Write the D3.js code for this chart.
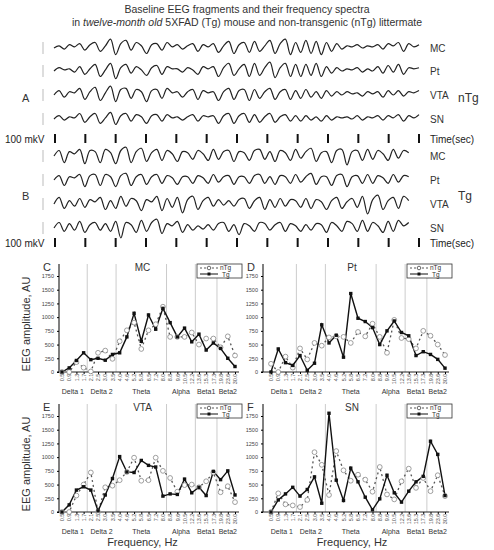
<!DOCTYPE html>
<html><head><meta charset="utf-8">
<script src="https://cdn.jsdelivr.net/npm/d3@7"></script>
<style>body{margin:0;background:#fff}text{font-family:"Liberation Sans",Arial,sans-serif}</style>
</head><body><svg width="494" height="550"></svg>
<script>
// frequency bins
var freqs = ["0.5","0.9","1.3","1.7","2.1","2.5","3.0","3.5","4.0","4.6","5.2","5.8","6.5","7.2","8.0","8.8","9.6","10.5","12.2","13.6","15.3","17.3","19.8","23.6","30.0"];
var bands = [["Delta 1",0,3],["Delta 2",4,7],["Theta",8,14],["Alpha",15,18],["Beta1",19,21],["Beta2",22,24]];
var yTicks = [0,250,500,750,1000,1250,1500,1750];

var mcTg  = [0,75,210,350,225,250,215,320,350,640,1070,560,1040,780,1160,900,640,800,550,690,400,530,430,250,100];
var mcNTg = [0,0,180,80,10,350,390,240,560,760,900,420,760,870,1190,640,640,640,720,500,610,610,450,650,300];
var ptTg  = [0,420,170,120,300,30,160,860,530,670,270,1430,980,920,810,500,750,930,720,660,300,370,320,230,70];
var ptNTg = [150,0,280,80,430,230,530,480,630,650,640,530,730,650,880,640,350,950,620,600,430,750,660,500,310];
var vtaTg  = [0,130,400,460,400,20,310,610,1010,730,720,940,850,820,290,330,320,600,350,450,300,740,590,750,310];
var vtaNTg = [0,0,300,500,720,0,450,480,580,730,990,570,580,990,750,620,370,490,500,450,560,720,360,470,180];
var snTg  = [0,220,330,450,290,410,640,160,1800,580,210,800,550,270,40,240,670,350,180,380,550,650,1290,1050,300];
var snNTg = [0,340,140,120,90,220,1090,860,310,1110,760,570,680,590,370,820,320,230,560,790,440,620,380,670,290];

// EEG fragments (rough traced samples, arbitrary units)
var eegA_MC  = [0,2,-1,3,1,4,-2,3,5,-3,2,8,-6,4,7,-2,5,2,-5,3,4,-2,5,1,3,-1,2,4,-3,3,1,4,-4,2,6,-5,3,5,-4,6,-3,2,7,-5,4,8,-6,5,-4,7,-5,6,-6,5,-3,4,-1,2,1,3,0,2,1,3,-1,4,2,5,-3,4,1,3];
var eegA_Pt  = [0,3,1,2,-1,4,-3,2,6,-5,1,7,-7,3,6,-2,4,1,-4,3,5,-3,4,2,2,-1,3,1,-3,4,2,4,-5,3,7,-4,2,6,-5,7,-4,3,8,-6,3,7,-5,6,-5,6,-4,7,-5,4,-2,3,0,2,1,3,-1,2,0,4,-2,5,-1,6,-3,3,2,3];
var eegA_VTA = [0,4,-2,3,2,6,-4,3,7,-5,2,8,-6,5,6,-3,5,3,-6,4,5,-3,6,2,3,-2,3,5,-4,4,2,3,-5,3,6,-4,4,5,-5,5,-3,3,6,-4,3,5,-4,4,-3,5,-2,3,-3,4,-1,3,0,3,1,2,-1,3,1,3,-2,4,0,4,-1,3,2,4];
var eegA_SN  = [0,3,-1,2,1,5,-3,2,5,-4,1,6,-5,3,5,-2,4,2,-4,3,4,-2,4,1,2,-1,2,4,-2,3,2,3,-4,3,5,-4,3,5,-3,4,-3,2,5,-3,2,4,-2,3,-2,3,-1,2,-2,3,-1,2,1,2,0,3,-1,2,1,3,-1,3,1,4,-2,3,1,4];
var eegB_MC  = [0,5,-6,4,2,6,-7,5,4,-6,6,3,-7,5,8,-6,4,7,-5,3,6,-4,5,2,-5,4,3,-3,5,2,-4,6,-3,4,5,-5,4,3,-4,5,6,-3,4,-5,5,3,-4,6,-2,4,7,-5,3,4,-6,5,6,-8,4,5,-4,6,-3,5,2,-4,6,-2,5,3];
var eegB_Pt  = [0,4,-5,3,2,5,-6,4,5,-5,5,3,-6,4,6,-5,3,5,-4,3,5,-3,4,2,-4,3,3,-3,4,2,-3,5,-2,3,4,-4,3,3,-3,4,5,-3,3,-4,4,3,-3,5,-2,3,6,-4,3,3,-5,4,5,-6,3,4,-3,5,-3,4,2,-3,5,-2,4,3];
var eegB_VTA = [0,6,-4,3,-2,5,-3,4,2,6,-5,3,-4,7,-2,5,3,-6,4,2,7,-6,5,-3,6,-8,4,7,-5,3,6,-2,4,-1,3,-2,4,5,-4,3,6,-5,4,-3,5,-2,4,3,-3,5,-4,4,2,-5,3,6,-4,2,5,-3,7,-9,4,8,-5,3,6,-4,7,3];
var eegB_SN  = [0,5,-3,4,-2,6,-4,3,5,-2,4,-3,6,-9,5,3,-4,7,-3,5,8,-5,4,2,6,-4,3,-2,2,-1,3,-2,4,5,-3,3,-6,4,2,-3,5,4,-2,3,5,-3,4,2,-3,3,-2,4,3,-4,5,2,-3,6,4,-3,7,-3,5,2,-4,6,-3,7,2,5];

var svg = d3.select("svg");

// title
svg.append("text").attr("x", 247).attr("y", 13).attr("text-anchor", "middle")
    .attr("font-size", 10.5).attr("fill", "#333").text("Baseline EEG fragments and their frequency spectra");
var t2 = svg.append("text").attr("x", 247).attr("y", 26).attr("text-anchor", "middle")
    .attr("font-size", 10.5).attr("fill", "#333");
t2.append("tspan").text("in ");
t2.append("tspan").attr("font-style", "italic").text("twelve-month old");
t2.append("tspan").text(" 5XFAD (Tg) mouse and non-transgenic (nTg) littermate");

// EEG blocks
var ex = d3.scaleLinear().domain([0, eegA_MC.length - 1]).range([54, 419]);
var ey = d3.scaleLinear().domain([-10, 10]).range([11, -11]);
var eline = d3.line().x(function(d, i) { return ex(i); }).y(function(d) { return ey(d); }).curve(d3.curveCatmullRom);
var tickTimes = d3.range(13);
var tx = d3.scaleLinear().domain([0, 12]).range([55, 419]);

function eegBlock(traces, rows, letter, group, tickY, letterY) {
    traces.forEach(function(tr, k) {
        var yc = rows[k];
        svg.append("line").attr("x1", 43).attr("x2", 43).attr("y1", yc - 6).attr("y2", yc + 6)
            .attr("stroke", "#bbb").attr("stroke-width", 1);
        svg.append("path").datum(tr[1]).attr("transform", "translate(0," + yc + ")")
            .attr("d", eline).attr("fill", "none").attr("stroke", "#222").attr("stroke-width", 1.2);
        svg.append("text").attr("x", 430).attr("y", yc + 4).attr("font-size", 10).attr("fill", "#333").text(tr[0]);
    });
    svg.append("text").attr("x", 22).attr("y", letterY).attr("font-size", 11).attr("fill", "#333").text(letter);
    svg.append("text").attr("x", 458).attr("y", letterY).attr("font-size", 12).attr("fill", "#333").text(group);
    svg.append("text").attr("x", 5).attr("y", tickY + 4).attr("font-size", 10).attr("fill", "#222").text("100 mkV");
    svg.selectAll(null).data(tickTimes).enter().append("line")
        .attr("x1", function(d) { return tx(d); }).attr("x2", function(d) { return tx(d); })
        .attr("y1", tickY - 5).attr("y2", tickY + 4).attr("stroke", "#111").attr("stroke-width", 2);
    svg.append("text").attr("x", 430).attr("y", tickY + 4).attr("font-size", 10).attr("fill", "#222").text("Time(sec)");
}
eegBlock([["MC", eegA_MC], ["Pt", eegA_Pt], ["VTA", eegA_VTA], ["SN", eegA_SN]], [48, 71, 95, 119], "A", "nTg", 139, 102);
eegBlock([["MC", eegB_MC], ["Pt", eegB_Pt], ["VTA", eegB_VTA], ["SN", eegB_SN]], [156, 180, 204, 228], "B", "Tg", 243, 200);

// spectra panels
function panel(ax, x0, x1, yb, letter, name, tg, ntg, yLabel, xTitle) {
    var x = d3.scalePoint().domain(freqs).range([x0, x1]);
    var y = d3.scaleLinear().domain([0, 1750]).range([yb, yb - 96]);
    var g = svg.append("g");
    var step = x.step();
    // band separators
    bands.slice(1).forEach(function(b) {
        var sx = x(freqs[b[1]]) - step / 2;
        g.append("line").attr("x1", sx).attr("x2", sx).attr("y1", yb).attr("y2", yb - 108)
            .attr("stroke", "#ccc").attr("stroke-width", 1);
    });
    g.append("g").attr("transform", "translate(" + ax + ",0)")
        .call(d3.axisLeft(y).tickValues(yTicks).tickFormat(d3.format("d")).tickSize(2).tickPadding(3))
        .call(function(s) {
            s.select(".domain").attr("d", "M-2," + yb + "H0V" + (yb - 108));
            s.selectAll("text").attr("font-size", 5.5).attr("fill", "#444");
        });
    g.append("line").attr("x1", ax).attr("x2", x1 + 4).attr("y1", yb).attr("y2", yb).attr("stroke", "#222");
    var xa = g.append("g").attr("transform", "translate(0," + yb + ")")
        .call(d3.axisBottom(x).tickSize(2));
    xa.select(".domain").remove();
    xa.selectAll("text").attr("font-size", 5.5).attr("fill", "#555")
        .attr("transform", "rotate(-90)").attr("text-anchor", "end").attr("dx", "-0.3em").attr("dy", "-0.6em");
    bands.forEach(function(b) {
        g.append("text").attr("x", (x(freqs[b[1]]) + x(freqs[b[2]])) / 2).attr("y", yb + 22)
            .attr("text-anchor", "middle").attr("font-size", 7).attr("fill", "#333").text(b[0]);
    });
    var ln = d3.line().x(function(d, i) { return x(freqs[i]); }).y(function(d) { return y(d); });
    g.append("path").datum(ntg).attr("d", ln).attr("fill", "none").attr("stroke", "#555")
        .attr("stroke-width", 1.3).attr("stroke-dasharray", "2,3");
    g.append("path").datum(tg).attr("d", ln).attr("fill", "none").attr("stroke", "#111").attr("stroke-width", 1.4);
    g.selectAll(null).data(ntg).enter().append("circle")
        .attr("cx", function(d, i) { return x(freqs[i]); }).attr("cy", function(d) { return y(d); })
        .attr("r", 2.4).attr("fill", "#fff").attr("stroke", "#888").attr("stroke-width", 0.8);
    g.selectAll(null).data(tg).enter().append("rect")
        .attr("x", function(d, i) { return x(freqs[i]) - 1.7; }).attr("y", function(d) { return y(d) - 1.7; })
        .attr("width", 3.4).attr("height", 3.4).attr("fill", "#111");
    // titles
    svg.append("text").attr("x", ax - 16).attr("y", yb - 101).attr("font-size", 11).attr("fill", "#333").text(letter);
    svg.append("text").attr("x", (x0 + x1) / 2 - 6).attr("y", yb - 101).attr("text-anchor", "middle")
        .attr("font-size", 10).attr("fill", "#333").text(name);
    // legend
    var lx = x1 - 38, ly = yb - 108;
    g.append("rect").attr("x", lx).attr("y", ly).attr("width", 45).attr("height", 14)
        .attr("fill", "#fff").attr("stroke", "#333").attr("stroke-width", 0.8);
    g.append("line").attr("x1", lx + 3).attr("x2", lx + 21).attr("y1", ly + 4).attr("y2", ly + 4)
        .attr("stroke", "#555").attr("stroke-dasharray", "2,2");
    g.append("circle").attr("cx", lx + 12).attr("cy", ly + 4).attr("r", 1.8).attr("fill", "#fff").attr("stroke", "#666");
    g.append("text").attr("x", lx + 23).attr("y", ly + 6).attr("font-size", 6.5).attr("fill", "#333").text("nTg");
    g.append("line").attr("x1", lx + 3).attr("x2", lx + 21).attr("y1", ly + 10).attr("y2", ly + 10).attr("stroke", "#111");
    g.append("rect").attr("x", lx + 10.5).attr("y", ly + 8.5).attr("width", 3).attr("height", 3).attr("fill", "#111");
    g.append("text").attr("x", lx + 25).attr("y", ly + 12.5).attr("font-size", 6.5).attr("fill", "#333").text("Tg");
    if (yLabel) {
        svg.append("text").attr("transform", "translate(30," + (yb - 48) + ") rotate(-90)")
            .attr("text-anchor", "middle").attr("font-size", 11).attr("fill", "#333").text("EEG amplitude, AU");
    }
    if (xTitle) {
        svg.append("text").attr("x", (x0 + x1) / 2 - 6).attr("y", yb + 34).attr("text-anchor", "middle")
            .attr("font-size", 11).attr("fill", "#333").text("Frequency, Hz");
    }
}
panel(59, 62, 235, 372, "C", "MC", mcTg, mcNTg, true, false);
panel(263, 271, 445, 372, "D", "Pt", ptTg, ptNTg, false, false);
panel(59, 62, 235, 512, "E", "VTA", vtaTg, vtaNTg, true, true);
panel(263, 271, 445, 512, "F", "SN", snTg, snNTg, false, true);
</script></body></html>
